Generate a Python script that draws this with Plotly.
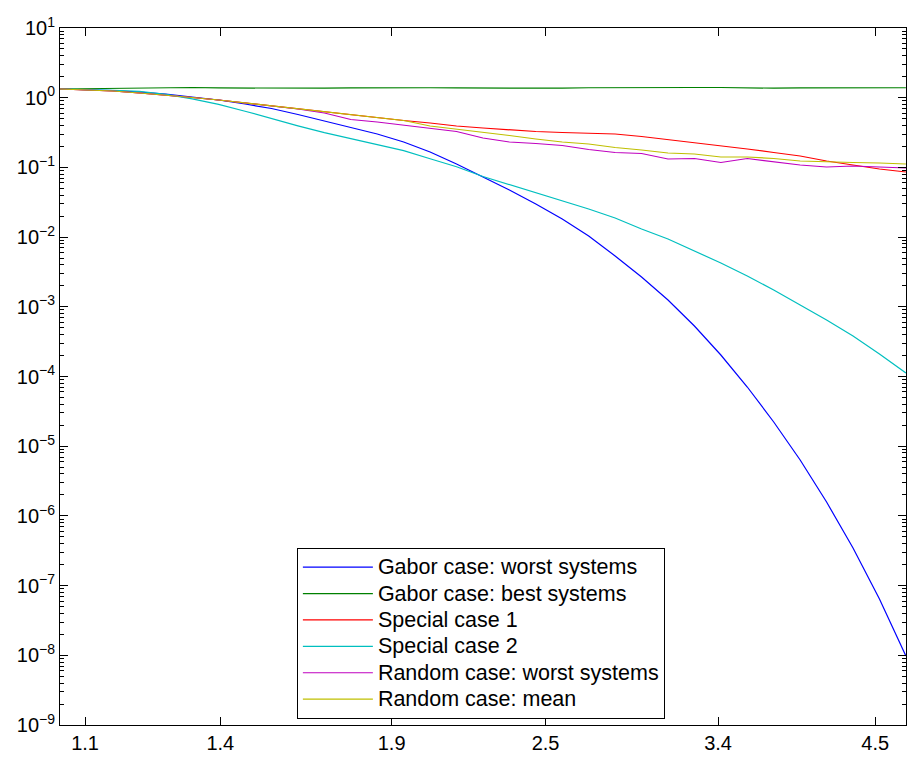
import plotly.graph_objects as go

# x sample points (log-spaced parameter)
x_vals = [1.0520, 1.1028, 1.1560, 1.2118, 1.2702, 1.3315, 1.3958, 1.4631, 1.5337,
          1.6077, 1.6853, 1.7666, 1.8518, 1.9412, 2.0349, 2.1331, 2.2360, 2.3439,
          2.4570, 2.5755, 2.6998, 2.8301, 2.9666, 3.1098, 3.2598, 3.4171, 3.5820,
          3.7548, 3.9360, 4.1259, 4.3250, 4.5337, 4.7525]

gabor_worst = [1.333, 1.311, 1.268, 1.207, 1.130, 1.023, 0.927, 0.812, 0.700, 0.574,
               0.463, 0.380, 0.301, 0.2314, 0.1664, 0.1119, 0.0728, 0.0474, 0.0299,
               0.01818, 0.01037, 0.00536, 0.002677, 0.001252, 5.30e-4, 2.034e-4,
               7.07e-5, 2.225e-5, 6.34e-6, 1.582e-6, 3.46e-7, 6.42e-8, 9.77e-9]

gabor_best = [1.333, 1.35, 1.37, 1.39, 1.40, 1.40, 1.38, 1.37, 1.36, 1.35, 1.37, 1.38,
              1.39, 1.40, 1.39, 1.38, 1.37, 1.36, 1.35, 1.37, 1.39, 1.40, 1.40, 1.39,
              1.40, 1.40, 1.38, 1.37, 1.38, 1.39, 1.40, 1.40, 1.39]

special_1 = [1.333, 1.290, 1.248, 1.168, 1.093, 1.007, 0.927, 0.839, 0.760, 0.688,
             0.6235, 0.5647, 0.5113, 0.4709, 0.4335, 0.3926, 0.3674, 0.3440, 0.3273,
             0.3167, 0.3114, 0.3013, 0.2775, 0.2514, 0.2277, 0.2028, 0.1837, 0.1636,
             0.1458, 0.1235, 0.1082, 0.0948, 0.0859]

special_2 = [1.333, 1.311, 1.280, 1.230, 1.115, 0.960, 0.800, 0.640, 0.500, 0.395,
             0.3150, 0.2600, 0.2150, 0.1740, 0.1330, 0.1020, 0.0740, 0.0565, 0.0432,
             0.03295, 0.0253, 0.01879, 0.01306, 0.00939, 0.00632, 0.004251, 0.002766,
             0.001742, 0.001061, 6.46e-4, 3.81e-4, 2.102e-4, 1.122e-4]

random_worst = [1.333, 1.290, 1.248, 1.168, 1.093, 1.007, 0.927, 0.839, 0.760, 0.688,
                0.6034, 0.4866, 0.4479, 0.4058, 0.3674, 0.3273, 0.2641, 0.2314, 0.2203,
                0.2061, 0.1806, 0.1636, 0.1582, 0.1320, 0.1341, 0.1176, 0.1341, 0.1215,
                0.1082, 0.1013, 0.1047, 0.1013, 0.0980]

random_mean = [1.333, 1.290, 1.248, 1.168, 1.093, 1.007, 0.927, 0.839, 0.760, 0.688,
               0.6235, 0.5647, 0.5113, 0.4709, 0.3926, 0.3556, 0.3220, 0.2869, 0.2556,
               0.2314, 0.2166, 0.1930, 0.1777, 0.1609, 0.1557, 0.1410, 0.1410, 0.1341,
               0.1235, 0.1196, 0.1176, 0.1156, 0.1119]

series_names = ["Gabor case: worst systems", "Gabor case: best systems", "Special case 1",
                "Special case 2", "Random case: worst systems", "Random case: mean"]
series_data = [gabor_worst, gabor_best, special_1, special_2, random_worst, random_mean]
series_colors = ["#0000ff", "#008000", "#ff0000", "#00bfbf", "#bf00bf", "#bfbf00"]

x_tick_vals = [1.1, 1.4, 1.9, 2.5, 3.4, 4.5]
x_tick_text = ["1.1", "1.4", "1.9", "2.5", "3.4", "4.5"]
y_exponents = [-9, -8, -7, -6, -5, -4, -3, -2, -1, 0, 1]

FONT = "Liberation Sans, Arial, Helvetica, sans-serif"

fig = go.Figure()
for name, ys, col in zip(series_names, series_data, series_colors):
    fig.add_trace(go.Scatter(x=x_vals, y=ys, mode="lines",
                             name="<span style='font-size:21.5px'>" + name + "</span>",
                             line=dict(color=col, width=1.2)))

y_tick_vals = [10.0 ** e for e in y_exponents]
y_tick_text = ["10<sup>" + (str(e) if e >= 0 else "\u2212" + str(-e)) + "</sup>" for e in y_exponents]
y_minor = [k * 10.0 ** e for e in y_exponents[:-1] for k in range(2, 10)]

fig.update_layout(
    width=907, height=758,
    margin=dict(l=60, r=1, t=28, b=33),
    paper_bgcolor="white", plot_bgcolor="white",
    font=dict(family=FONT, size=20, color="black"),
    showlegend=True,
    legend=dict(x=0.28, y=0.254, xanchor="left", yanchor="top",
                bgcolor="white", bordercolor="black", borderwidth=1,
                font=dict(family=FONT, size=18, color="black"),
                itemwidth=70, tracegroupgap=0),
)
fig.update_xaxes(type="log", range=[0.0220, 0.6770],
                 tickmode="array", tickvals=x_tick_vals, ticktext=x_tick_text,
                 ticks="inside", ticklen=8, tickcolor="black", tickwidth=1,
                 showline=True, linecolor="black", linewidth=1, mirror="allticks",
                 showgrid=False, zeroline=False)
fig.update_yaxes(type="log", range=[-9, 1],
                 tickmode="array", tickvals=y_tick_vals, ticktext=y_tick_text,
                 ticks="inside", ticklen=8, tickcolor="black", tickwidth=1,
                 minor=dict(tickmode="array", tickvals=y_minor, ticks="inside",
                            ticklen=4, tickcolor="black", tickwidth=1, showgrid=False),
                 showline=True, linecolor="black", linewidth=1, mirror="allticks",
                 showgrid=False, zeroline=False)

fig.write_html("out.html")
